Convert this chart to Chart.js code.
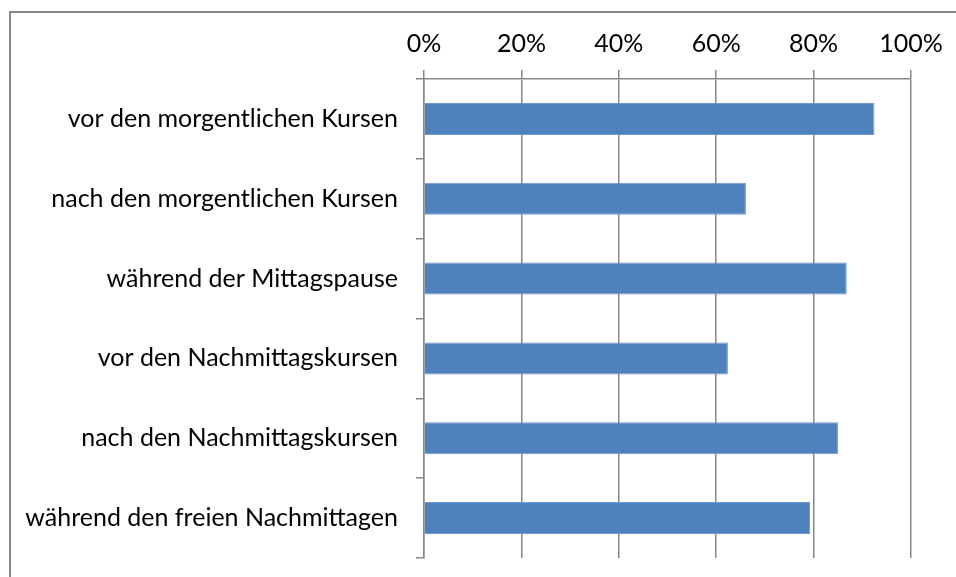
<!DOCTYPE html>
<html>
<head>
<meta charset="utf-8">
<script src="https://cdn.jsdelivr.net/npm/chart.js@4"></script>
<style>
  body { margin: 0; background: #fff; }
  #wrap { width: 956px; height: 577px; position: relative; }
</style>
</head>
<body>
<div id="wrap"><canvas id="chartCanvas" width="956" height="577"></canvas></div>
<script>
// Kategorien und Werte (in Prozent)
const categories = [
  'vor den morgentlichen Kursen',
  'nach den morgentlichen Kursen',
  'während der Mittagspause',
  'vor den Nachmittagskursen',
  'nach den Nachmittagskursen',
  'während den freien Nachmittagen'
];
const values = [92.5, 66.1, 86.8, 62.4, 85.0, 79.3];
const tickValues = [0, 20, 40, 60, 80, 100];

const axisGray = '#878787';

// Rahmen um das Diagramm (links und oben sichtbar)
const framePlugin = {
  id: 'frame',
  beforeDraw(chart) {
    const ctx = chart.ctx;
    ctx.save();
    ctx.fillStyle = '#fff';
    ctx.fillRect(0, 0, chart.width, chart.height);
    ctx.strokeStyle = axisGray;
    ctx.lineWidth = 2;
    ctx.beginPath();
    ctx.moveTo(10, chart.height + 5);
    ctx.lineTo(10, 12);
    ctx.lineTo(chart.width + 5, 12);
    ctx.stroke();
    ctx.restore();
  }
};

function Loadchart() {
  const canvas = document.getElementById('chartCanvas');
  const ctx = canvas.getContext('2d');
  new Chart(ctx, {
    type: 'bar',
    data: {
      labels: categories,
      datasets: [{
        data: values,
        backgroundColor: '#4F81BD',
        borderColor: '#6f98cc',
        borderWidth: 1,
        categoryPercentage: 1,
        barPercentage: 0.4
      }]
    },
    options: {
      indexAxis: 'y',
      responsive: false,
      animation: false,
      layout: { padding: { left: 0, right: 45, top: 0, bottom: 19 } },
      plugins: {
        legend: { display: false },
        tooltip: { enabled: false }
      },
      scales: {
        x: {
          position: 'top',
          min: 0,
          max: 100,
          afterBuildTicks: (scale) => {
            scale.ticks = tickValues.map(v => ({ value: v }));
          },
          afterFit: (scale) => {
            scale.height = 79;
            scale.paddingLeft = 0;
            scale.paddingRight = 0;
          },
          ticks: {
            callback: (v) => v + '%',
            color: '#000',
            font: { family: 'Lato', size: 25 },
            padding: 11,
            maxRotation: 0
          },
          grid: {
            color: axisGray,
            lineWidth: 1.5,
            tickLength: 9
          },
          border: { display: true, color: axisGray, width: 1.5 }
        },
        y: {
          afterFit: (scale) => {
            scale.width = 424;
            scale.paddingTop = 0;
            scale.paddingBottom = 0;
          },
          ticks: {
            color: '#000',
            font: { family: 'Lato', size: 25 },
            padding: 18
          },
          grid: {
            drawOnChartArea: false,
            color: axisGray,
            lineWidth: 1.5,
            tickLength: 8,
            offset: true
          },
          border: { display: true, color: axisGray, width: 1.5 }
        }
      }
    },
    plugins: [framePlugin]
  });
}

Loadchart();
</script>
</body>
</html>
